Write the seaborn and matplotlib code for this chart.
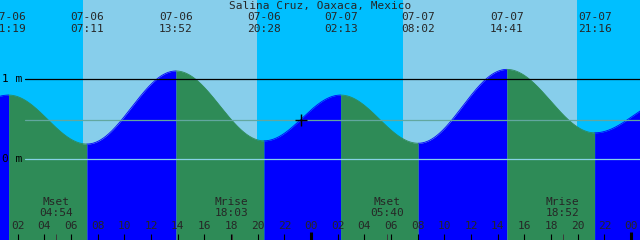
import numpy as np
import pandas as pd
import matplotlib
matplotlib.use("Agg")
import matplotlib.pyplot as plt
import seaborn as sns
from matplotlib.transforms import blended_transform_factory

# ---------------- data ----------------
title = "Salina Cruz, Oaxaca, Mexico"

tide_dates = ["07-05", "07-06", "07-06", "07-06", "07-06", "07-07", "07-07", "07-07", "07-07", "07-08"]
tide_clock = ["19:00", "01:19", "07:11", "13:52", "20:28", "02:13", "08:02", "14:41", "21:16", "03:00"]
tide_heights = [0.25, 0.80, 0.19, 1.10, 0.23, 0.80, 0.20, 1.12, 0.33, 0.75]
tide_labeled = [False, True, True, True, True, True, True, True, True, False]

moon_events = ["Mset", "Mrise", "Mset", "Mrise"]
moon_dates = ["07-06", "07-06", "07-07", "07-07"]
moon_clock = ["04:54", "18:03", "05:40", "18:52"]

sun_events = ["rise", "set", "rise", "set"]
sun_dates = ["07-06", "07-06", "07-07", "07-07"]
sun_clock = ["06:54", "19:57", "06:54", "19:57"]

view_start = ("07-06", "00:40")
view_hours = 48

level_values = [1.0, 0.49, 0.0]
level_labels = ["1 m", "", "0 m"]
level_colors = ["black", "#62A79F", "#86D2E6"]

now_mark = ("07-06", "23:15", 0.49)

# ---------------- helpers ----------------
def hours(date, clock):
    day = int(date[3:]) - 6
    hh, mm = clock.split(":")
    return day * 24 + int(hh) + int(mm) / 60.0

W, H = 640, 240
zero_px, px_per_m = 159.3, 80.3
y_top = zero_px / px_per_m
y_bot = -(H - zero_px) / px_per_m

def py(y):  # pixel row -> axes fraction
    return 1 - y / H

t0 = hours(*view_start)
t1 = t0 + view_hours

tt = [hours(d, c) for d, c in zip(tide_dates, tide_clock)]

# curve between extrema (cosine tide interpolation)
rows = []
for i in range(len(tt) - 1):
    a, b = tt[i], tt[i + 1]
    ha, hb = tide_heights[i], tide_heights[i + 1]
    ts = np.linspace(a, b, 200)
    hs = ha + (hb - ha) * (1 - np.cos(np.pi * (ts - a) / (b - a))) / 2
    phase = "rise" if hb > ha else "fall"
    for t, h in zip(ts, hs):
        rows.append((t, h, phase, i))
df = pd.DataFrame(rows, columns=["t", "h", "phase", "seg"])

fill_colors = {"rise": "#0000FF", "fall": "#2E8B57"}
night, day = "#00BFFF", "#87CEEB"

# ---------------- figure ----------------
sns.set_style("white")
plt.rcParams["font.family"] = ["DejaVu Sans Mono", "DejaVu Sans"]
fig = plt.figure(figsize=(W / 100, H / 100), dpi=100)
ax = fig.add_axes([0, 0, 1, 1])

# sky
st = [hours(d, c) for d, c in zip(sun_dates, sun_clock)]
edges = [t0 - 1] + st + [t1 + 1]
for i in range(len(edges) - 1):
    col = night if i % 2 == 0 else day
    ax.axvspan(edges[i], edges[i + 1], color=col, lw=0, zorder=0)

# water
for seg, g in df.groupby("seg"):
    ax.fill_between(g["t"], y_bot, g["h"], color=fill_colors[g["phase"].iloc[0]],
                    lw=0, zorder=1)
sns.lineplot(data=df, x="t", y="h", hue="phase", units="seg", estimator=None,
             palette=fill_colors, lw=0.6, legend=False, ax=ax, zorder=2)
ax.set_xlim(t0, t1)
ax.set_ylim(y_bot, y_top)
ax.axis("off")

fs = 8.0
bx = blended_transform_factory(ax.transData, ax.transAxes)
fy = blended_transform_factory(fig.transFigure, ax.transData)

# level lines
for v, lab, col in zip(level_values, level_labels, level_colors):
    ax.axhline(v, xmin=25 / W, xmax=1, color=col, lw=0.9, zorder=3)
    if lab:
        ax.text(1.5 / W, v, lab, transform=fy, fontsize=fs, ha="left", va="center",
                color="black")

# title
ax.text(0.5, py(6), title, transform=ax.transAxes, ha="center", va="center", fontsize=fs)

# tide labels
for t, d, c, lab in zip(tt, tide_dates, tide_clock, tide_labeled):
    if lab:
        ax.text(t, py(17.5), d, transform=bx, ha="center", va="center", fontsize=fs)
        ax.text(t, py(29), c, transform=bx, ha="center", va="center", fontsize=fs)

# moon labels
for ev, d, c in zip(moon_events, moon_dates, moon_clock):
    t = hours(d, c)
    ax.text(t, py(202), ev, transform=bx, ha="center", va="center", fontsize=fs)
    ax.text(t, py(213.5), c, transform=bx, ha="center", va="center", fontsize=fs)
    ax.vlines(t, 0, py(234), transform=bx, color="#3a3a3a", lw=0.7, zorder=4)

# hour ticks
for hr in range(int(np.ceil(t0)), int(t1) + 1):
    if hr % 2:
        continue
    lab = f"{hr % 24:02d}"
    ax.text(hr, py(226), lab, transform=bx, ha="center", va="center", fontsize=fs)
    if hr % 24 == 0:
        ax.vlines(hr, 0, py(232), transform=bx, color="black", lw=2.2, zorder=4)
    else:
        ax.vlines(hr, 0, py(234), transform=bx, color="black", lw=0.8, zorder=4)

# now marker
ax.plot(hours(now_mark[0], now_mark[1]), now_mark[2], marker="+", ms=9, mew=1.0,
        color="black", zorder=5)

fig.savefig("out.png", dpi=100)
